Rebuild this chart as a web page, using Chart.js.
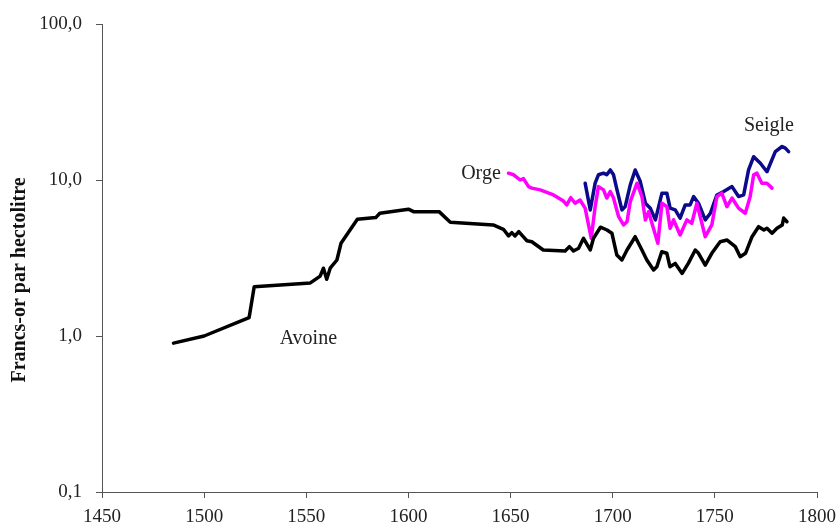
<!DOCTYPE html>
<html>
<head>
<meta charset="utf-8">
<script src="https://cdn.jsdelivr.net/npm/chart.js@4/dist/chart.umd.min.js"></script>
<style>
  html, body { margin: 0; padding: 0; background: #ffffff; }
  #wrap { width: 837px; height: 525px; }
</style>
</head>
<body>
<div id="wrap"><canvas id="c" width="837" height="525"></canvas></div>
<script>
// ---- Data ----
const avoineYears = [1485, 1500, 1522, 1524.5, 1552, 1556.8, 1558.4, 1560, 1561.7, 1565, 1567, 1575, 1584, 1586, 1600, 1602.5, 1615, 1620.5, 1641.5, 1646.5, 1649, 1650.6, 1652.2, 1654, 1656.3, 1658, 1660.4, 1666, 1676.7, 1678.8, 1680.8, 1683.3, 1685.7, 1689, 1690.6, 1694, 1697.2, 1699.6, 1702, 1704.5, 1707, 1711, 1714.3, 1716.7, 1720, 1721.6, 1724, 1726.5, 1728, 1730.6, 1734, 1737, 1740.4, 1742, 1745.3, 1748.5, 1752.6, 1756, 1760, 1762.4, 1765, 1768.2, 1771.4, 1774, 1775.5, 1778, 1780.4, 1783, 1783.7, 1785.3];
const avoineValues = [0.90, 1.00, 1.31, 2.07, 2.19, 2.42, 2.72, 2.31, 2.72, 3.07, 3.93, 5.6, 5.74, 6.12, 6.5, 6.27, 6.27, 5.36, 5.15, 4.83, 4.38, 4.6, 4.38, 4.67, 4.32, 4.08, 4.02, 3.56, 3.51, 3.74, 3.51, 3.65, 4.23, 3.56, 4.23, 4.98, 4.78, 4.56, 3.31, 3.07, 3.56, 4.33, 3.56, 3.07, 2.65, 2.78, 3.47, 3.39, 2.78, 2.92, 2.52, 2.92, 3.56, 3.39, 2.85, 3.39, 4.02, 4.12, 3.74, 3.22, 3.39, 4.33, 5.02, 4.78, 4.9, 4.56, 4.9, 5.15, 5.7, 5.4];

const orgeYears = [1649, 1651.5, 1654.7, 1656.3, 1658.8, 1660.4, 1664.5, 1671, 1675.9, 1677.5, 1679.5, 1681.6, 1684, 1686.5, 1689.5, 1691.4, 1693, 1695.5, 1697.1, 1698.8, 1700.4, 1702.9, 1705.3, 1707, 1708.6, 1711.9, 1714.3, 1716, 1717.6, 1719.2, 1722.1, 1724.1, 1726.5, 1728.1, 1729.8, 1733, 1736.3, 1738.7, 1741.2, 1745.3, 1748.5, 1751, 1753.4, 1755.9, 1758.4, 1761.6, 1764.9, 1767.3, 1769, 1770.6, 1773, 1775.5, 1778];
const orgeValues = [11.06, 10.8, 10.0, 10.2, 9.07, 8.87, 8.64, 8.02, 7.33, 6.92, 7.7, 7.1, 7.44, 6.6, 4.23, 6.75, 9.07, 8.64, 7.66, 8.43, 7.66, 5.82, 5.15, 5.4, 7.27, 9.54, 7.83, 5.55, 6.27, 5.28, 3.93, 7.1, 6.75, 4.9, 5.55, 4.44, 5.55, 5.28, 7.1, 4.33, 5.15, 7.83, 8.23, 6.75, 7.66, 6.6, 6.12, 7.83, 10.8, 11.06, 9.54, 9.54, 8.87];

const seigleYears = [1686.5, 1689, 1691.4, 1693, 1695.5, 1697.1, 1698.8, 1700.4, 1702.1, 1704.5, 1706.1, 1708.6, 1711, 1713.5, 1716, 1718.4, 1720.9, 1724.1, 1726.5, 1728.1, 1730.6, 1733, 1735.5, 1737.9, 1739.6, 1742, 1745.3, 1747.8, 1751, 1754.3, 1758.4, 1761.6, 1764.1, 1766.5, 1769, 1772.3, 1775.5, 1779.6, 1782.9, 1784.5, 1786.1];
const seigleValues = [9.54, 6.43, 9.54, 10.8, 11.06, 10.8, 11.6, 10.8, 8.64, 6.43, 6.75, 9.3, 11.6, 9.77, 7.1, 6.6, 5.55, 8.23, 8.23, 6.6, 6.43, 5.69, 6.92, 6.92, 7.83, 7.1, 5.55, 6.12, 8.02, 8.43, 9.07, 7.83, 8.02, 11.6, 14.1, 12.8, 11.3, 15.2, 16.4, 16.0, 15.2];

const seriesNames = ['Avoine', 'Orge', 'Seigle'];
const labelYears = [1551, 1635.5, 1776.5];
const labelValues = [0.955, 10.9, 22.2];

const xTicks = [1450, 1500, 1550, 1600, 1650, 1700, 1750, 1800];
const yTicks = [0.1, 1, 10, 100];
const yTitle = 'Francs-or par hectolitre';

// ---- Chart ----
const toPts = (xs, ys) => xs.map((x, i) => ({ x: x, y: ys[i] }));
const SERIF = '"Liberation Serif", "Times New Roman", serif';

const seriesLabels = {
  id: 'seriesLabels',
  afterDatasetsDraw(chart) {
    const { ctx, scales } = chart;
    ctx.save();
    ctx.fillStyle = '#222';
    ctx.font = '20px ' + SERIF;
    ctx.textAlign = 'center';
    ctx.textBaseline = 'middle';
    seriesNames.forEach((n, i) => {
      ctx.fillText(n, scales.x.getPixelForValue(labelYears[i]), scales.y.getPixelForValue(labelValues[i]));
    });
    // rotated y-axis title
    ctx.translate(20, 280);
    ctx.rotate(-Math.PI / 2);
    ctx.font = 'bold 20px ' + SERIF;
    ctx.fillStyle = '#111';
    ctx.fillText(yTitle, 0, 0);
    ctx.restore();
  }
};

new Chart(document.getElementById('c'), {
  type: 'line',
  data: {
    datasets: [
      { label: 'Avoine', data: toPts(avoineYears, avoineValues), borderColor: '#000000', borderWidth: 3.5 },
      { label: 'Orge', data: toPts(orgeYears, orgeValues), borderColor: '#ff00ff', borderWidth: 3.5 },
      { label: 'Seigle', data: toPts(seigleYears, seigleValues), borderColor: '#0a0a8a', borderWidth: 3.5 }
    ]
  },
  options: {
    responsive: false,
    animation: false,
    devicePixelRatio: 1,
    layout: { padding: { top: 24, right: 20, bottom: 0, left: 0 } },
    elements: { point: { radius: 0 }, line: { tension: 0, fill: false, borderJoinStyle: 'round', borderCapStyle: 'round' } },
    plugins: { legend: { display: false }, tooltip: { enabled: false } },
    scales: {
      x: {
        type: 'linear', min: 1450, max: 1800,
        afterBuildTicks: (s) => { s.ticks = xTicks.map(v => ({ value: v })); },
        afterFit: (s) => { s.height = 33; s.paddingRight = 0; s.paddingLeft = 0; },
        ticks: { callback: (v) => String(v), color: '#222', font: { family: SERIF, size: 19 }, padding: 8, maxRotation: 0 },
        grid: { display: true, drawOnChartArea: false, drawTicks: true, tickLength: 6, color: '#555', lineWidth: 1 },
        border: { display: true, color: '#555', width: 1 }
      },
      y: {
        type: 'logarithmic', min: 0.1, max: 100,
        afterBuildTicks: (s) => { s.ticks = yTicks.map(v => ({ value: v })); },
        afterFit: (s) => { s.width = 102; s.paddingTop = 0; s.paddingBottom = 0; },
        ticks: { callback: (v) => Number(v).toFixed(1).replace('.', ','), color: '#222', font: { family: SERIF, size: 19 }, padding: 14 },
        grid: { display: true, drawOnChartArea: false, drawTicks: true, tickLength: 6, color: '#555', lineWidth: 1 },
        border: { display: true, color: '#555', width: 1 }
      }
    }
  },
  plugins: [seriesLabels]
});
</script>
</body>
</html>
